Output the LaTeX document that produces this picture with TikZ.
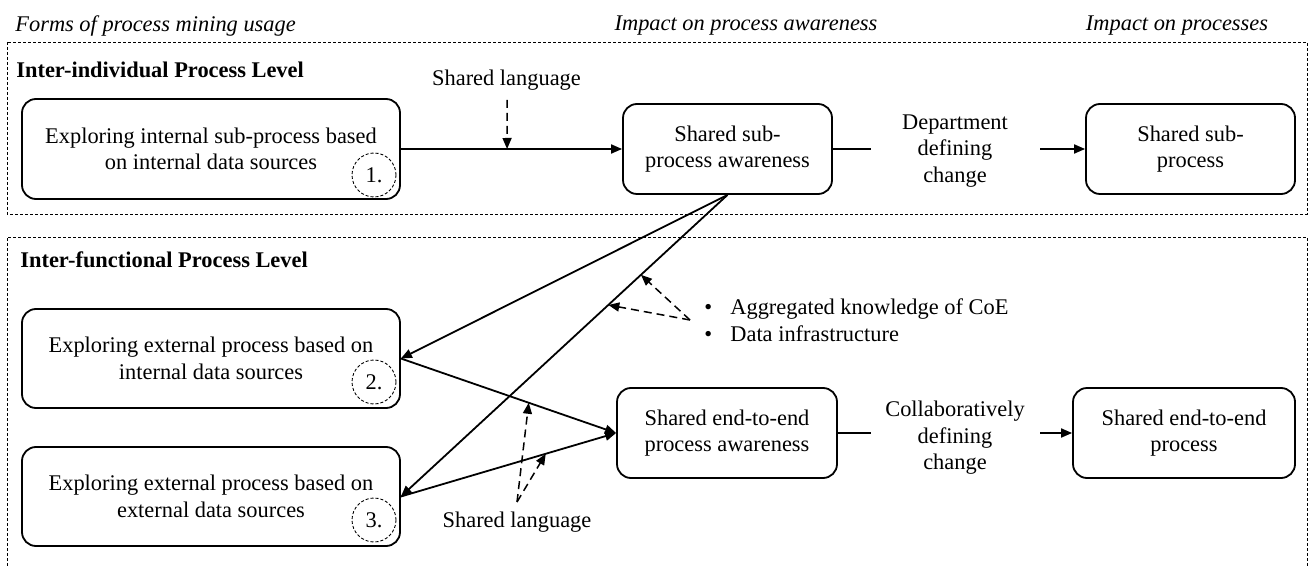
\documentclass[tikz,border=0pt]{standalone}
\usepackage{fontspec}
\setmainfont{Liberation Serif}
\usetikzlibrary{arrows.meta,calc}
\begin{document}
\begin{tikzpicture}[x=0.5pt,y=-0.5pt,
  font=\fontsize{11.2}{13.3}\selectfont,
  procbox/.style={draw, line width=0.9pt, rounded corners=7pt, align=center, inner sep=0pt},
  numcirc/.style={draw, circle, line width=0.45pt, dash pattern=on 1.5pt off 1pt, minimum size=22pt, inner sep=0pt},
  flow/.style={line width=0.9pt, -{Triangle[length=5.5pt,width=4.5pt]}},
  plainline/.style={line width=0.9pt},
  hint/.style={line width=0.75pt, dash pattern=on 4pt off 2.5pt, -{Triangle[length=5.5pt,width=4.5pt]}},
  region/.style={line width=0.45pt, dash pattern=on 1.5pt off 1pt},
  lbl/.style={align=center, inner sep=0pt}]
\useasboundingbox (0,0) rectangle (1309,566);

% region frames
\draw[region] (7,42) rectangle (1307,214);
\draw[region] (7,566) -- (7,237) -- (1307,237) -- (1307,566);

% column titles
\node[lbl, anchor=west] (t1) at (15,26) {\itshape Forms of process mining usage};
\node[lbl] (t2) at (746,26) {\itshape Impact on process awareness};
\node[lbl] (t3) at (1177,26) {\itshape Impact on processes};

% level titles
\node[lbl, anchor=west] (lv1) at (16,70) {\bfseries Inter-individual Process Level};
\node[lbl, anchor=west] (lv2) at (20,260) {\bfseries Inter-functional Process Level};

% boxes
\node[procbox, minimum width=189pt, minimum height=50pt] (b1) at (211,149)
  {Exploring internal sub-process based\\on internal data sources};
\node[numcirc] (c1) at (374,175) {1.};
\node[procbox, minimum width=104.5pt, minimum height=45pt] (b2) at (727.5,149)
  {Shared sub-\\process awareness};
\node[procbox, minimum width=104.5pt, minimum height=45pt] (b3) at (1190.5,149)
  {Shared sub-\\process};

\node[procbox, minimum width=189pt, minimum height=49.5pt] (b4) at (211,358.5)
  {Exploring external process based on\\internal data sources};
\node[numcirc] (c2) at (374,382) {2.};
\node[procbox, minimum width=189pt, minimum height=49.5pt] (b5) at (211,496.5)
  {Exploring external process based on\\external data sources};
\node[numcirc] (c3) at (374,520) {3.};
\node[procbox, minimum width=110pt, minimum height=45pt] (b6) at (727,433)
  {Shared end-to-end\\process awareness};
\node[procbox, minimum width=111pt, minimum height=45pt] (b7) at (1184,433)
  {Shared end-to-end\\process};

% top level flow
\draw[flow] (b1.east) -- (b2.west);
\node[lbl] (sl1) at (506.5,80) {Shared language};
\coordinate (sl1s) at (507,100);
\draw[hint] (sl1s) -- ($(b1.east)!0.48!(b2.west)$);

\node[lbl] (dep) at (955,151) {Department\\defining\\change};
\coordinate (d1) at (871,149);
\coordinate (d2) at (1040,149);
\draw[plainline] (b2.east) -- (d1);
\draw[flow] (d2) -- (b3.west);

% cross-level flows
\draw[flow] (b2.south) -- (b4.east);
\draw[flow] (b2.south) -- (b5.east);
\draw[flow] (b4.east) -- (b6.west);
\draw[flow] (b5.east) -- (b6.west);

% aggregated knowledge hints
\coordinate (ag) at (690,320);
\draw[hint] (ag) -- ($(b2.south)!0.265!(b5.east)$);
\draw[hint] (ag) -- ($(b2.south)!0.365!(b5.east)$);
\node[lbl, anchor=west, align=left] (agl) at (704,320)
  {\makebox[13pt][l]{•}Aggregated knowledge of CoE\\\makebox[13pt][l]{•}Data infrastructure};

% lower shared language hints
\coordinate (sl2s) at (517,502);
\draw[hint] (sl2s) -- ($(b4.east)!0.594!(b6.west)$);
\draw[hint] (sl2s) -- ($(b5.east)!0.673!(b6.west)$);
\node[lbl] (sl2) at (517,522) {Shared language};

% lower level flow
\node[lbl] (col) at (955,438) {Collaboratively\\defining\\change};
\coordinate (e1) at (871,433);
\coordinate (e2) at (1040,433);
\draw[plainline] (b6.east) -- (e1);
\draw[flow] (e2) -- (b7.west);
\end{tikzpicture}
\end{document}
